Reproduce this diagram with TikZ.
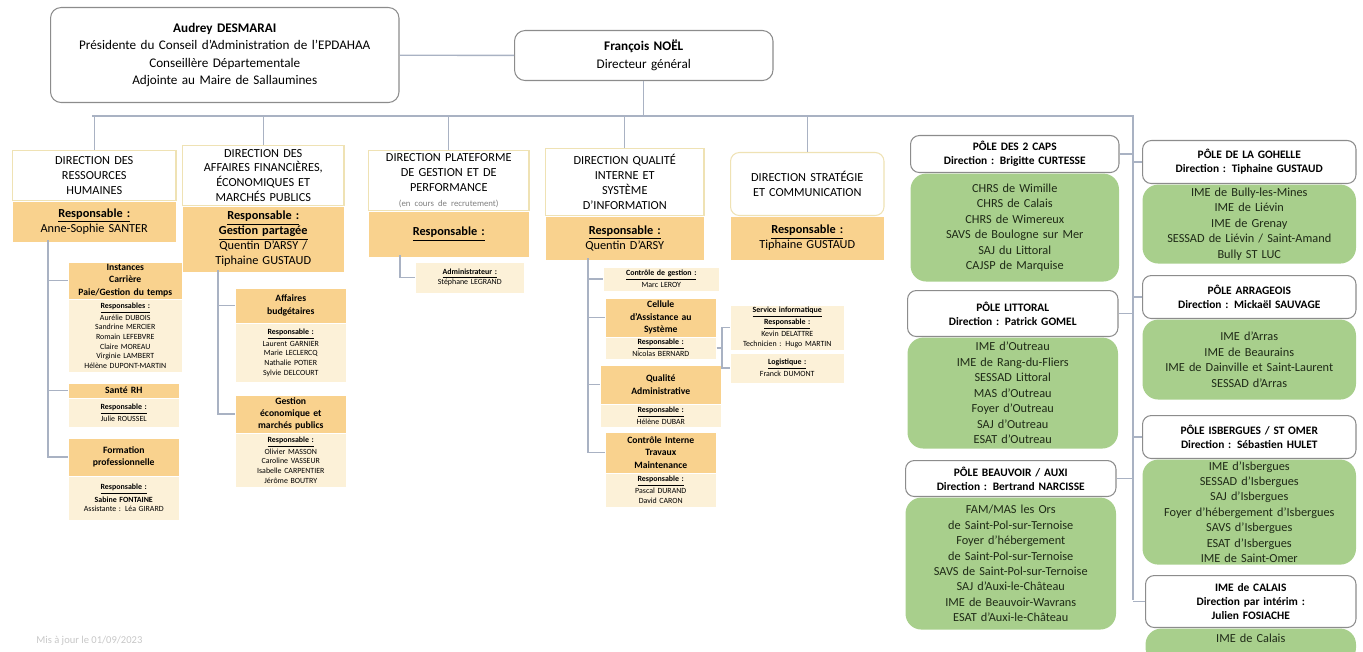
\documentclass[tikz,border=0pt]{standalone}
\usepackage{fontspec}
\setmainfont{Carlito}
\usetikzlibrary{positioning}
\definecolor{cgrey}{HTML}{8C8C8C}
\definecolor{cline}{HTML}{A9B2C3}
\definecolor{cframe}{HTML}{EFE2B4}
\definecolor{corange}{HTML}{F9D28E}
\definecolor{ccream}{HTML}{FCF1D8}
\definecolor{cgreen}{HTML}{A8CF8C}
\definecolor{cink}{HTML}{1F2A17}
\newcommand{\resp}[1]{\underline{\textbf{#1}}}
\tikzset{
  every picture/.style={line width=0.6pt},
  person/.style={draw=cgrey, fill=white, rounded corners=6pt, align=center, anchor=north west, inner sep=1pt, font=\fontsize{7.5}{10}\selectfont},
  dirhead/.style={draw=cframe, fill=white, align=center, anchor=north west, inner sep=1pt, font=\fontsize{7}{8.5}\selectfont},
  dirbody/.style={fill=corange, align=center, inner sep=1pt, font=\fontsize{7}{8.5}\selectfont},
  subhead/.style={fill=corange, align=center, anchor=north west, inner sep=1pt, font=\bfseries\fontsize{5.5}{7}\selectfont},
  subbody/.style={fill=ccream, align=center, inner sep=1pt, font=\fontsize{4.5}{5.5}\selectfont},
  polehead/.style={draw=cgrey, fill=white, rounded corners=5pt, align=center, anchor=north west, inner sep=1pt, font=\bfseries\fontsize{6.5}{8}\selectfont},
  polebody/.style={fill=cgreen, rounded corners=9pt, align=center, inner sep=1pt, text=cink, font=\fontsize{7}{8.8}\selectfont},
  link/.style={draw=cline, line width=0.8pt},
}
\begin{document}
\begin{tikzpicture}[x=0.02cm, y=-0.02cm]
  \useasboundingbox (0,0) rectangle (1363,652);
  \node[person, text width=6.9cm, minimum height=1.9cm] (pca) at (50,7)
    {\textbf{Audrey DESMARAI}\\Présidente du Conseil d'Administration de l'EPDAHAA\\Conseillère Départementale\\Adjointe au Maire de Sallaumines};
  \node[person, text width=5.1cm, minimum height=1.0cm] (dg) at (514,30) {\textbf{François NOËL}\\Directeur général};
  \draw[link] (pca) -- (dg);
  \coordinate (busL) at (92,116);
  \coordinate (busR) at (1133,116);
  \coordinate (poleB) at (1133,600);
  \draw[link] (busL) -- (busR) -- (poleB);
  \draw[link] (dg.south) -- (dg.south |- busL);

  \node[dirhead, text width=3.2cm, minimum height=1.0cm] (rh) at (12,150) {DIRECTION DES\\RESSOURCES\\HUMAINES};
  \node[dirbody, text width=3.2cm, minimum height=0.8cm, below=0pt of rh] (rhb) {\resp{Responsable :}\\Anne-Sophie SANTER};
  \node[dirhead, text width=3.16cm, minimum height=1.2cm] (fin) at (182,145) {DIRECTION DES\\AFFAIRES FINANCIÈRES,\\ÉCONOMIQUES ET\\MARCHÉS PUBLICS};
  \node[dirbody, text width=3.16cm, minimum height=1.3cm, below=0pt of fin] (finb) {\resp{Responsable :}\\\resp{Gestion partagée}\\Quentin D'ARSY /\\Tiphaine GUSTAUD};
  \node[dirhead, text width=3.14cm, minimum height=1.2cm] (pgp) at (368,150) {DIRECTION PLATEFORME\\DE GESTION ET DE\\PERFORMANCE\\{\fontsize{5}{6}\selectfont\color{gray}(en cours de recrutement)}};
  \node[dirbody, text width=3.14cm, minimum height=0.9cm, below=0pt of pgp] (pgpb) {\resp{Responsable :}};
  \node[dirhead, text width=3.1cm, minimum height=1.34cm] (qsi) at (545,148) {DIRECTION QUALITÉ\\INTERNE ET\\SYSTÈME\\D'INFORMATION};
  \node[dirbody, text width=3.1cm, minimum height=0.86cm, below=0pt of qsi] (qsib) {\resp{Responsable :}\\Quentin D'ARSY};
  \node[dirhead, text width=3.0cm, minimum height=1.26cm, rounded corners=5pt] (com) at (730,152) {DIRECTION STRATÉGIE\\ET COMMUNICATION};
  \node[dirbody, text width=3.0cm, minimum height=0.86cm, below=0pt of com] (comb) {\resp{Responsable :}\\Tiphaine GUSTAUD};
  \foreach \d in {rh,fin,pgp,qsi,com}
    \draw[link] (\d.north) -- (\d.north |- busL);

  \node[subhead, text width=2.2cm, minimum height=0.72cm] (carr) at (68,262) {Instances\\Carrière\\Paie/Gestion du temps};
  \node[subbody, text width=2.2cm, minimum height=1.44cm, below=0pt of carr] (carrb)
    {\resp{Responsables :}\\Aurélie DUBOIS\\Sandrine MERCIER\\Romain LEFEBVRE\\Claire MOREAU\\Virginie LAMBERT\\Hélène DUPONT-MARTIN};
  \node[subhead, text width=2.14cm, minimum height=0.28cm] (sante) at (68,383) {Santé RH};
  \node[subbody, text width=2.14cm, minimum height=0.56cm, below=0pt of sante] (santeb) {\resp{Responsable :}\\Julie ROUSSEL};
  \node[subhead, text width=2.14cm, minimum height=0.74cm] (form) at (68,438) {Formation\\professionnelle};
  \node[subbody, text width=2.14cm, minimum height=0.86cm, below=0pt of form] (formb) {\resp{Responsable :}\\\textbf{Sabine FONTAINE}\\Assistante : Léa GIRARD};
  \coordinate (rhline) at (48,240);
  \draw[link] (rhline) |- (form.west);
  \draw[link] (rhline |- carr.west) -- (carr.west);
  \draw[link] (rhline |- sante.west) -- (sante.west);

  \node[subhead, text width=2.14cm, minimum height=0.68cm] (budg) at (235,288) {Affaires\\budgétaires};
  \node[subbody, text width=2.14cm, minimum height=1.16cm, below=0pt of budg] (budgb)
    {\resp{Responsable :}\\Laurent GARNIER\\Marie LECLERCQ\\Nathalie POTIER\\Sylvie DELCOURT};
  \node[subhead, text width=2.14cm, minimum height=0.74cm] (march) at (235,395) {Gestion\\économique et\\marchés publics};
  \node[subbody, text width=2.14cm, minimum height=1.06cm, below=0pt of march] (marchb)
    {\resp{Responsable :}\\Olivier MASSON\\Caroline VASSEUR\\Isabelle CARPENTIER\\Jérôme BOUTRY};
  \coordinate (finline) at (218,270);
  \draw[link] (finline) |- (march.west);
  \draw[link] (finline |- budg.west) -- (budg.west);

  \node[subbody, anchor=north west, text width=2.1cm, minimum height=0.6cm] (admin) at (415,262) {\resp{Administrateur :}\\Stéphane LEGRAND};
  \coordinate (pgpline) at (400,255);
  \draw[link] (pgpline) |- (admin.west);

  \node[subbody, anchor=north west, text width=2.24cm, minimum height=0.46cm] (cdg) at (603,267) {\resp{Contrôle de gestion :}\\Marc LEROY};
  \node[subhead, text width=2.14cm, minimum height=0.76cm] (csi) at (605,298) {Cellule\\d'Assistance au\\Système};
  \node[subbody, text width=2.14cm, minimum height=0.38cm, below=0pt of csi] (csib) {\resp{Responsable :}\\Nicolas BERNARD};
  \node[subhead, text width=2.34cm, minimum height=0.76cm] (qual) at (600,365) {Qualité\\Administrative};
  \node[subbody, text width=2.34cm, minimum height=0.44cm, below=0pt of qual] (qualb) {\resp{Responsable :}\\Hélène DUBAR};
  \node[subhead, text width=2.14cm, minimum height=0.8cm] (ctlint) at (605,432) {Contrôle Interne\\Travaux\\Maintenance};
  \node[subbody, text width=2.14cm, minimum height=0.66cm, below=0pt of ctlint] (ctlintb) {\resp{Responsable :}\\Pascal DURAND\\David CARON};
  \node[subbody, anchor=north west, text width=2.2cm, minimum height=0.86cm] (info) at (730,305)
    {\resp{Service informatique}\\\resp{Responsable :}\\Kevin DELATTRE\\Technicien : Hugo MARTIN};
  \node[subbody, anchor=north west, text width=2.2cm, minimum height=0.58cm] (logi) at (730,353) {\resp{Logistique :}\\Franck DUMONT};
  \coordinate (qsiline) at (588,258);
  \draw[link] (qsiline) |- (ctlint.west);
  \foreach \s in {cdg,csi,qual}
    \draw[link] (qsiline |- \s.west) -- (\s.west);
  \coordinate (siline) at (722,0);
  \draw[link] (csib.east) -- (csib.east -| siline);
  \draw[link] (info.west) -| (siline |- logi.west) -- (logi.west);

  \node[polehead, text width=4.1cm, minimum height=0.74cm] (caps) at (910,135) {PÔLE DES 2 CAPS\\Direction : Brigitte CURTESSE};
  \node[polebody, text width=4.1cm, minimum height=2.16cm, below=0pt of caps] (capsb)
    {CHRS de Wimille\\CHRS de Calais\\CHRS de Wimereux\\SAVS de Boulogne sur Mer\\SAJ du Littoral\\CAJSP de Marquise};
  \node[polehead, text width=4.14cm, minimum height=0.92cm] (litt) at (907,290) {PÔLE LITTORAL\\Direction : Patrick GOMEL};
  \node[polebody, text width=4.14cm, minimum height=2.22cm, below=0pt of litt] (littb)
    {IME d'Outreau\\IME de Rang-du-Fliers\\SESSAD Littoral\\MAS d'Outreau\\Foyer d'Outreau\\SAJ d'Outreau\\ESAT d'Outreau};
  \node[polehead, text width=4.14cm, minimum height=0.72cm] (beau) at (905,460) {PÔLE BEAUVOIR / AUXI\\Direction : Bertrand NARCISSE};
  \node[polebody, text width=4.14cm, minimum height=2.64cm, below=0pt of beau] (beaub)
    {FAM/MAS les Ors\\de Saint-Pol-sur-Ternoise\\Foyer d'hébergement\\de Saint-Pol-sur-Ternoise\\SAVS de Saint-Pol-sur-Ternoise\\SAJ d'Auxi-le-Château\\IME de Beauvoir-Wavrans\\ESAT d'Auxi-le-Château};
  \node[polehead, text width=4.2cm, minimum height=0.86cm] (goh) at (1142,140) {PÔLE DE LA GOHELLE\\Direction : Tiphaine GUSTAUD};
  \node[polebody, text width=4.2cm, minimum height=1.58cm, below=0pt of goh] (gohb)
    {IME de Bully-les-Mines\\IME de Liévin\\IME de Grenay\\SESSAD de Liévin / Saint-Amand\\Bully ST LUC};
  \node[polehead, text width=4.2cm, minimum height=0.86cm] (arr) at (1142,275) {PÔLE ARRAGEOIS\\Direction : Mickaël SAUVAGE};
  \node[polebody, text width=4.2cm, minimum height=1.6cm, below=0pt of arr] (arrb)
    {IME d'Arras\\IME de Beaurains\\IME de Dainville et Saint-Laurent\\SESSAD d'Arras};
  \node[polehead, text width=4.2cm, minimum height=0.86cm] (isb) at (1142,415) {PÔLE ISBERGUES / ST OMER\\Direction : Sébastien HULET};
  \node[polebody, text width=4.2cm, minimum height=2.1cm, below=0pt of isb] (isbb)
    {IME d'Isbergues\\SESSAD d'Isbergues\\SAJ d'Isbergues\\Foyer d'hébergement d'Isbergues\\SAVS d'Isbergues\\ESAT d'Isbergues\\IME de Saint-Omer};
  \node[polehead, text width=4.14cm, minimum height=1.04cm] (cal) at (1145,575) {IME de CALAIS\\Direction par intérim :\\Julien FOSIACHE};
  \node[polebody, text width=4.14cm, minimum height=0.7cm, below=0pt of cal, anchor=north, inner ysep=3pt, text depth=0.3cm] (calb) {IME de Calais};
  \foreach \p in {caps,litt,beau}
    \draw[link] (\p.east) -- (\p.east -| busR);
  \foreach \p in {goh,arr,isb,cal}
    \draw[link] (\p.west) -- (\p.west -| busR);

  \node[anchor=west, text=black!22, font=\fontsize{6}{7}\selectfont] (maj) at (30,641) {Mis à jour le 01/09/2023};
\end{tikzpicture}
\end{document}
